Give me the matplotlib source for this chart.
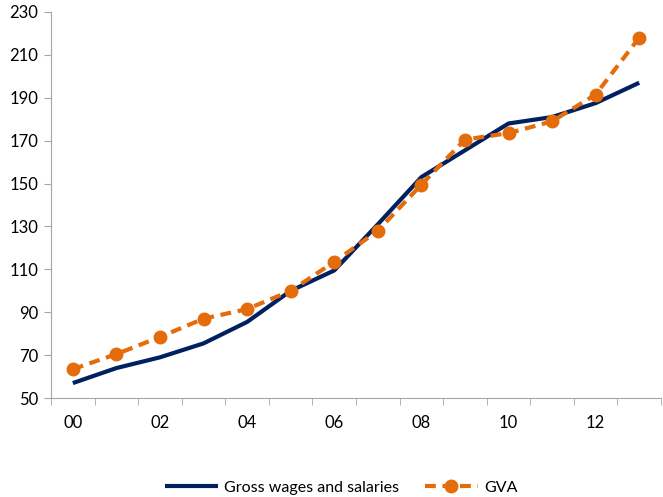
import numpy as np
import matplotlib
matplotlib.use('Agg')
import matplotlib.pyplot as plt
from matplotlib.ticker import FixedLocator

plt.rcParams['font.family'] = ['Lato', 'DejaVu Sans']

years = ['00', '01', '02', '03', '04', '05', '06', '07', '08', '09', '10', '11', '12', '13']
wages = [57, 64, 69, 75.5, 85.5, 100, 109.5, 131, 153, 165.5, 178, 181, 187.5, 197]
gva = [63.5, 70.5, 78.5, 87, 91.5, 100, 113.5, 128, 149.5, 170.5, 173.5, 179, 191.5, 218]

x = np.arange(len(years))

fig = plt.figure(figsize=(6.63, 4.97), dpi=100)
ax = fig.add_axes([0.077, 0.199, 0.92, 0.777])

ax.plot(x, wages, color='#002060', lw=3, solid_capstyle='butt', label='Gross wages and salaries')
ax.plot(x, gva, color='#E46C0A', lw=3, ls=(0, (2.6, 1.6)), marker='o', ms=9,
        label='GVA')

ax.set_xlim(-0.5, len(years) - 0.5)
ax.set_ylim(50, 230)
ax.set_yticks(np.arange(50, 231, 20))
ax.set_xticks(x[::2])
ax.set_xticklabels(years[::2])
ax.xaxis.set_minor_locator(FixedLocator(np.arange(-0.5, len(years), 1)))
ax.tick_params(axis='x', which='major', length=0, pad=12, labelsize=12)
ax.tick_params(axis='x', which='minor', length=5, color='#A6A6A6', direction='out')
ax.tick_params(axis='y', length=5, color='#A6A6A6', labelsize=12, pad=4)

for s in ['top', 'right']:
    ax.spines[s].set_visible(False)
for s in ['left', 'bottom']:
    ax.spines[s].set_color('#A6A6A6')

fig.legend(loc='lower center', bbox_to_anchor=(0.515, -0.025), ncol=2, frameon=False,
           fontsize=11.5, handlelength=3.3, handletextpad=0.4, columnspacing=1.6)

fig.savefig('out.png', dpi=100)
